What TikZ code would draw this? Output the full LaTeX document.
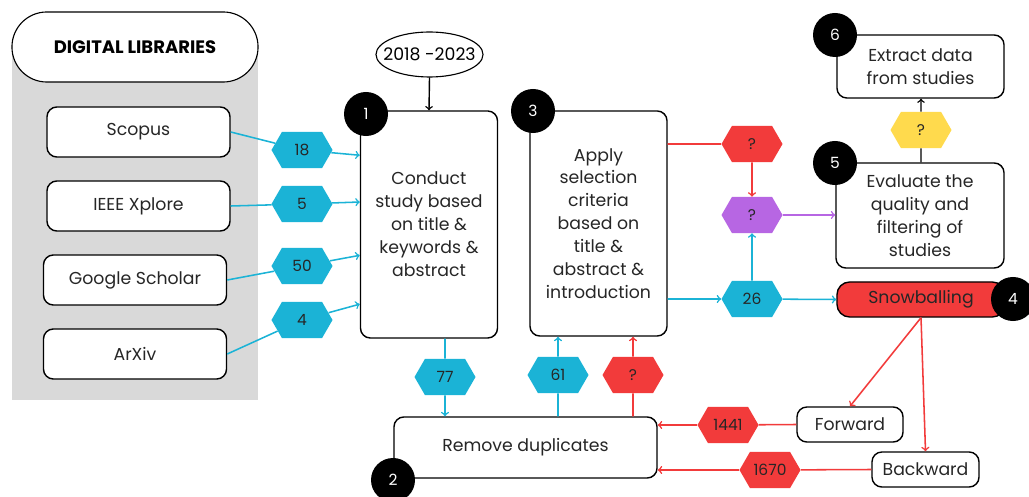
\documentclass[tikz,border=0pt]{standalone}
\usepackage{fontspec}
\setmainfont{Poppins}
\usetikzlibrary{shapes.geometric,shapes.symbols}
\definecolor{cyanc}{HTML}{1BB3D6}
\definecolor{redc}{HTML}{F23B3B}
\definecolor{purc}{HTML}{B766E3}
\definecolor{yelc}{HTML}{FFDA4D}
\definecolor{panc}{HTML}{D9D9D9}
\begin{document}
\begin{tikzpicture}[x=0.025cm, y=-0.025cm, font=\fontsize{12.3}{16.3}\selectfont,
  box/.style = {draw, line width=1pt, rounded corners=7pt, fill=white, align=center, inner sep=2pt, text=black!85},
  lib/.style = {box, minimum width=4.575cm, minimum height=1.25cm},
  num/.style = {circle, fill=black, text=white, minimum size=1.1cm, inner sep=0pt, font=\fontsize{11}{12}\selectfont},
  hexa/.style = {shape=signal, signal to=east and west, signal pointer angle=120, minimum width=1.525cm, minimum height=0.9cm, inner sep=0pt, font=\fontsize{11}{12}\selectfont, text=black!85},
  hexc/.style = {hexa, fill=cyanc},
  hexr/.style = {hexa, fill=redc},
  hexp/.style = {hexa, fill=purc},
  hexy/.style = {hexa, fill=yelc},
  cyline/.style = {cyanc, line width=1.1pt},
  redline/.style = {redc, line width=1.1pt},
  purline/.style = {purc, line width=1.1pt}]
\useasboundingbox (0,0) rectangle (1029,497);
\fill[panc] (12,50) rectangle (258,400);
\node[draw, fill=white, line width=0.8pt, rounded corners=0.87cm, minimum width=6.15cm, minimum height=1.75cm, font=\fontsize{12.8}{14}\selectfont\bfseries] (dl) at (135,47) {DIGITAL LIBRARIES};
\node[lib] (sc) at (138.5,132) {Scopus};
\node[lib] (ie) at (138.5,206) {IEEE Xplore};
\node[lib] (gs) at (135,280) {Google Scholar};
\node[lib] (ax) at (135,354) {ArXiv};
\node[minimum width=2.675cm, minimum height=1.125cm, inner sep=0pt] (yr) at (429.5,54.5) {2018 -2023};
\draw[line width=0.8pt] (yr.center) ellipse [x radius=53.5, y radius=22.5];
\node[box, minimum width=3.425cm, minimum height=5.675cm] (b1) at (429,224.5) {Conduct\\study based\\on title \&\\keywords \&\\abstract};
\node[box, minimum width=3.425cm, minimum height=5.625cm] (b3) at (598.5,223.5) {Apply\\selection\\criteria\\based on\\title \&\\abstract \&\\introduction};
\node[box, minimum width=6.575cm, minimum height=1.525cm] (rem) at (525.5,447.5) {Remove duplicates};
\node[box, minimum width=4.2cm, minimum height=2.625cm] (ev) at (920,215.5) {Evaluate the\\quality and\\filtering of\\studies};
\node[box, minimum width=4.175cm, minimum height=1.575cm] (ex) at (920.5,66.5) {Extract data\\from studies};
\node[box, fill=redc, rounded corners=9pt, minimum width=4.2cm, minimum height=0.875cm] (sb) at (921,299.5) {Snowballing};
\node[box, minimum width=2.65cm, minimum height=0.875cm] (fw) at (850,424.5) {Forward};
\node[box, minimum width=2.675cm, minimum height=0.875cm] (bw) at (925.5,469.5) {Backward};
% step numbers
\node[num] (n1) at (366,114) {1};
\node[num] (n2) at (393,480) {2};
\node[num] (n3) at (533,111) {3};
\node[num] (n4) at (1013,299) {4};
\node[num] (n5) at (835,163) {5};
\node[num] (n6) at (835,35) {6};
% counts
\node[hexc] (h18) at (302,150) {18};
\node[hexc] (h5) at (302,204) {5};
\node[hexc] (h50) at (302,266) {50};
\node[hexc] (h4) at (302,320) {4};
\node[hexc] (h77) at (445,377) {77};
\node[hexc] (h61) at (558,375) {61};
\node[hexr] (q1) at (633,375) {?};
\node[hexr] (q2) at (752,144) {?};
\node[hexp] (q3) at (752,215) {?};
\node[hexc] (h26) at (752,299) {26};
\node[hexy] (q4) at (921,130) {?};
\node[hexr] (h1441) at (728,425) {1441};
\node[hexr] (h1670) at (770,470) {1670};
\draw[->, line width=1pt] (yr.south) -- (b1.north);
\draw[cyline, ->] (sc.east) -- (h18) -- (b1.135);
\draw[cyline, ->] (ie.east) -- (h5) -- (b1.162);
\draw[cyline, ->] (gs.east) -- (h50) -- (b1.204);
\draw[cyline, ->] (ax.east) -- (h4) -- (b1.229);
\draw[cyline, ->] (b1.south -| h77) -- (h77) -- (rem.north -| h77);
\draw[cyline, ->] (rem.north -| h61) -- (h61) -- (b3.south -| h61);
\draw[redline, ->] (rem.north -| q1) -- (q1) -- (b3.south -| q1);
\draw[redline, ->] (b3.east |- q2) -- (q2) -- (q3);
\draw[purline, ->] (q3) -- (ev.west |- q3);
\draw[cyline, ->] (b3.east |- h26) -- (h26);
\draw[cyline, ->] (h26) -- (sb.west);
\draw[cyline, ->] (h26) -- (q3);
\draw[->, line width=1pt] (ev.north -| q4) -- (q4) -- (ex.south -| q4);
\draw[redline, ->] (sb.south) -- (fw.north);
\draw[redline, ->] (sb.south) -- (bw.north);
\draw[redline, ->] (fw.west) -- (h1441) -- (rem.east |- h1441);
\draw[redline, ->] (bw.west) -- (h1670) -- (rem.east |- h1670);
\end{tikzpicture}
\end{document}
